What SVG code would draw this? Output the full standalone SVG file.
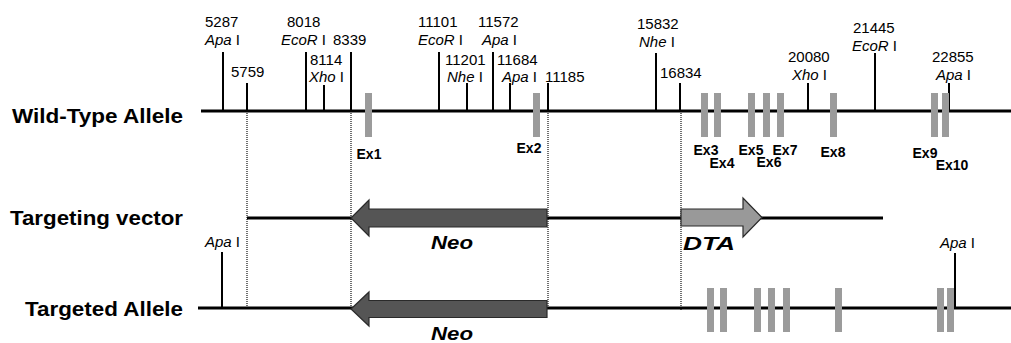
<svg xmlns="http://www.w3.org/2000/svg" width="1011" height="343" viewBox="0 0 1011 343">
<style>
.bb{stroke:#000;stroke-width:3;fill:none}
.tk{stroke:#000;stroke-width:2;fill:none}
.dot{stroke:#111;stroke-width:1.2;stroke-dasharray:1 1;fill:none}
.ex{fill:#9b9b9b}
.num{font-family:"Liberation Sans",Arial,sans-serif;font-size:15px;fill:#000}
.enz{font-family:"Liberation Sans",Arial,sans-serif;font-size:15px;fill:#000}
.it{font-style:italic}
.exl{font-family:"Liberation Sans",Arial,sans-serif;font-size:14px;font-weight:bold;fill:#000;text-anchor:middle}
.row{font-family:"Liberation Sans",Arial,sans-serif;font-size:20px;font-weight:bold;fill:#000;text-anchor:end}
.gene{font-family:"Liberation Sans",Arial,sans-serif;font-size:19px;font-weight:bold;font-style:italic;fill:#000}
.neo{fill:#555;stroke:#2a2a2a;stroke-width:1.2}
.dta{fill:#999;stroke:#2a2a2a;stroke-width:1.2}
</style>
<rect width="1011" height="343" fill="#fff"/>

<g id="connectors">
<line class="dot" x1="247" y1="111" x2="247" y2="308"/>
<line class="dot" x1="351" y1="111" x2="351" y2="308"/>
<line class="dot" x1="548" y1="111" x2="548" y2="308"/>
<line class="dot" x1="681" y1="111" x2="681" y2="311"/>
</g>

<g id="wild-type-allele">
<text class="row" x="183" y="123" textLength="171" lengthAdjust="spacingAndGlyphs">Wild-Type Allele</text>
<line class="bb" x1="201" y1="111" x2="1011" y2="111"/>
<g id="wt-sites">
<line class="tk" x1="223" y1="52" x2="223" y2="111"/>
<line class="tk" x1="247" y1="83" x2="247" y2="111"/>
<line class="tk" x1="306" y1="52" x2="306" y2="111"/>
<line class="tk" x1="324" y1="85" x2="324" y2="111"/>
<line class="tk" x1="351" y1="52" x2="351" y2="111"/>
<line class="tk" x1="439" y1="52" x2="439" y2="111"/>
<line class="tk" x1="467" y1="83" x2="467" y2="111"/>
<line class="tk" x1="493" y1="52" x2="493" y2="111"/>
<line class="tk" x1="510" y1="83" x2="510" y2="111"/>
<line class="tk" x1="548" y1="83" x2="548" y2="111"/>
<line class="tk" x1="656" y1="53" x2="656" y2="111"/>
<line class="tk" x1="680" y1="83" x2="680" y2="111"/>
<line class="tk" x1="808" y1="83" x2="808" y2="111"/>
<line class="tk" x1="875" y1="53" x2="875" y2="111"/>
<line class="tk" x1="949" y1="83" x2="949" y2="111"/>

<text class="num" x="205" y="27">5287</text>
<text class="enz" x="205" y="45"><tspan class="it">Apa</tspan> I</text>
<text class="num" x="231" y="77">5759</text>
<text class="num" x="287" y="27">8018</text>
<text class="enz" x="281" y="45"><tspan class="it">EcoR</tspan> I</text>
<text class="num" x="310" y="65">8114</text>
<text class="enz" x="309" y="82"><tspan class="it">Xho</tspan> I</text>
<text class="num" x="333" y="45">8339</text>
<text class="num" x="418" y="27">11101</text>
<text class="enz" x="418" y="45"><tspan class="it">EcoR</tspan> I</text>
<text class="num" x="445" y="65">11201</text>
<text class="enz" x="447" y="82"><tspan class="it">Nhe</tspan> I</text>
<text class="num" x="478" y="27">11572</text>
<text class="enz" x="482" y="45"><tspan class="it">Apa</tspan> I</text>
<text class="num" x="497" y="65">11684</text>
<text class="enz" x="502" y="82"><tspan class="it">Apa</tspan> I</text>
<text class="num" x="545" y="82">11185</text>
<text class="num" x="637" y="29">15832</text>
<text class="enz" x="639" y="47"><tspan class="it">Nhe</tspan> I</text>
<text class="num" x="660" y="78">16834</text>
<text class="num" x="788" y="62">20080</text>
<text class="enz" x="792" y="80"><tspan class="it">Xho</tspan> I</text>
<text class="num" x="853" y="33">21445</text>
<text class="enz" x="852" y="51"><tspan class="it">EcoR</tspan> I</text>
<text class="num" x="932" y="62">22855</text>
<text class="enz" x="936" y="80"><tspan class="it">Apa</tspan> I</text>
</g>
<g id="wt-exons">
<rect class="ex" x="365" y="93" width="7" height="44"/>
<rect class="ex" x="533" y="93" width="7" height="44"/>
<rect class="ex" x="701" y="93" width="7" height="44"/>
<rect class="ex" x="714" y="93" width="7" height="44"/>
<rect class="ex" x="748" y="93" width="7" height="44"/>
<rect class="ex" x="763" y="93" width="7" height="44"/>
<rect class="ex" x="777" y="93" width="7" height="44"/>
<rect class="ex" x="830" y="93" width="7" height="44"/>
<rect class="ex" x="931" y="93" width="7" height="44"/>
<rect class="ex" x="942" y="93" width="7" height="44"/>
<text class="exl" x="369" y="159">Ex1</text>
<text class="exl" x="529" y="153">Ex2</text>
<text class="exl" x="706" y="155">Ex3</text>
<text class="exl" x="722" y="168">Ex4</text>
<text class="exl" x="751" y="155">Ex5</text>
<text class="exl" x="769" y="167">Ex6</text>
<text class="exl" x="785" y="155">Ex7</text>
<text class="exl" x="833" y="157">Ex8</text>
<text class="exl" x="925" y="158">Ex9</text>
<text class="exl" x="952" y="170">Ex10</text>
</g>
</g>

<g id="targeting-vector">
<text class="row" x="183" y="225" textLength="173" lengthAdjust="spacingAndGlyphs">Targeting vector</text>
<line class="bb" x1="247" y1="218" x2="883" y2="218"/>
<path id="tv-neo" class="neo" d="M351,218 L369,200 L369,209 L547,209 L547,227 L369,227 L369,236 Z"/>
<text class="gene" x="431" y="249" textLength="42" lengthAdjust="spacingAndGlyphs">Neo</text>
<path id="tv-dta" class="dta" d="M681,209 L743,209 L743,198 L762,217.5 L743,237 L743,226 L681,226 Z"/>
<text class="gene" x="683" y="250" textLength="52" lengthAdjust="spacingAndGlyphs">DTA</text>
</g>

<g id="targeted-allele">
<text class="row" x="183" y="316" textLength="158" lengthAdjust="spacingAndGlyphs">Targeted Allele</text>
<line class="bb" x1="198" y1="308" x2="1011" y2="308"/>
<line class="tk" x1="222" y1="252" x2="222" y2="308"/>
<text class="enz" x="205" y="247"><tspan class="it">Apa</tspan> I</text>
<line class="tk" x1="955" y1="253" x2="955" y2="308"/>
<text class="enz" x="940" y="248"><tspan class="it">Apa</tspan> I</text>
<path id="ta-neo" class="neo" d="M351,309 L369,292 L369,300.5 L547,300.5 L547,317.5 L369,317.5 L369,326 Z"/>
<text class="gene" x="431" y="340" textLength="42" lengthAdjust="spacingAndGlyphs">Neo</text>
<g id="ta-exons">
<rect class="ex" x="707" y="288" width="7" height="44"/>
<rect class="ex" x="720" y="288" width="7" height="44"/>
<rect class="ex" x="754" y="288" width="7" height="44"/>
<rect class="ex" x="768" y="288" width="7" height="44"/>
<rect class="ex" x="783" y="288" width="7" height="44"/>
<rect class="ex" x="835" y="288" width="7" height="44"/>
<rect class="ex" x="937" y="288" width="7" height="44"/>
<rect class="ex" x="947" y="288" width="7" height="44"/>
</g>
</g>
</svg>
